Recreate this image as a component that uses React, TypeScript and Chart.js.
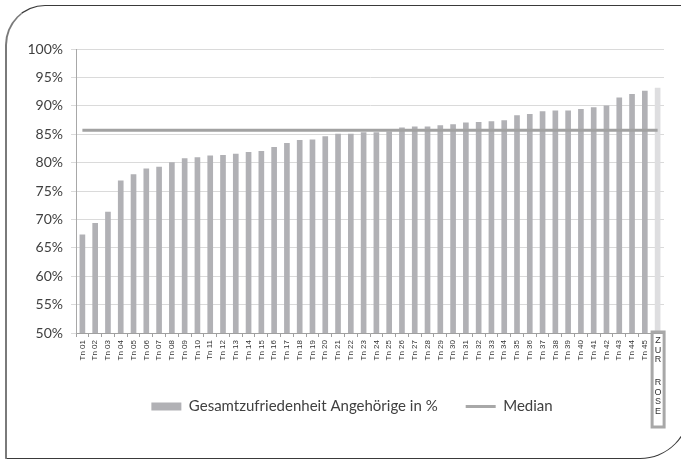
import React, { useEffect, useRef } from 'react';
import { Chart, registerables } from 'chart.js';

Chart.register(...registerables);

const categories: string[] = [
  'Tn 01', 'Tn 02', 'Tn 03', 'Tn 04', 'Tn 05', 'Tn 06', 'Tn 07', 'Tn 08', 'Tn 09', 'Tn 10',
  'Tn 11', 'Tn 12', 'Tn 13', 'Tn 14', 'Tn 15', 'Tn 16', 'Tn 17', 'Tn 18', 'Tn 19', 'Tn 20',
  'Tn 21', 'Tn 22', 'Tn 23', 'Tn 24', 'Tn 25', 'Tn 26', 'Tn 27', 'Tn 28', 'Tn 29', 'Tn 30',
  'Tn 31', 'Tn 32', 'Tn 33', 'Tn 34', 'Tn 35', 'Tn 36', 'Tn 37', 'Tn 38', 'Tn 39', 'Tn 40',
  'Tn 41', 'Tn 42', 'Tn 43', 'Tn 44', 'Tn 45', 'ZUR ROSE',
];

const satisfaction: number[] = [
  67.3, 69.3, 71.3, 76.8, 77.9, 78.9, 79.2, 80.0, 80.7, 80.9,
  81.2, 81.3, 81.5, 81.8, 82.0, 82.7, 83.4, 83.9, 84.0, 84.6,
  85.0, 85.0, 85.3, 85.3, 85.4, 86.1, 86.3, 86.3, 86.5, 86.7,
  87.0, 87.1, 87.2, 87.4, 88.3, 88.5, 89.0, 89.1, 89.1, 89.4,
  89.7, 90.0, 91.4, 92.0, 92.6, 93.1,
];

const medianValue = 85.7;

const yTicks: number[] = [50, 55, 60, 65, 70, 75, 80, 85, 90, 95, 100];

const seriesNames = ['Gesamtzufriedenheit Angehörige in %', 'Median'];

const BAR_COLOR = '#b1b1b5';
const HIGHLIGHT_COLOR = '#dedee0';
const MEDIAN_COLOR = '#a2a2a2';

const zurRosePlugin = {
  id: 'zurRose',
  afterDraw(chart: any) {
    const ctx = chart.ctx;
    const x = chart.scales.x;
    const last = categories.length - 1;
    const cx = x.getPixelForValue(last);
    const bottom = chart.chartArea.bottom;
    ctx.save();
    ctx.strokeStyle = '#a8a8a8';
    ctx.lineWidth = 3;
    ctx.strokeRect(cx - 5.5, bottom - 1, 12, 95);
    ctx.fillStyle = '#333333';
    ctx.font = '9px "Liberation Sans", Arial, sans-serif';
    ctx.textAlign = 'center';
    ctx.textBaseline = 'middle';
    const chars = categories[last].split('');
    const offsets = [8, 17.5, 27, 0, 50, 59.5, 69, 78.5];
    chars.forEach((c, i) => {
      if (c.trim()) ctx.fillText(c, cx + 0.5, bottom + offsets[i]);
    });
    ctx.restore();
  },
};

const legendShiftPlugin = {
  id: 'legendShift',
  afterLayout(chart: any) {
    const lg = chart.legend;
    if (lg) {
      lg.left += 20;
      lg.right += 20;
    }
  },
};

export default function App() {
  const canvasRef = useRef<HTMLCanvasElement | null>(null);

  useEffect(() => {
    if (!canvasRef.current) return;
    const chart = new Chart(canvasRef.current, {
      type: 'bar',
      data: {
        labels: categories,
        datasets: [
          {
            type: 'line',
            label: seriesNames[1],
            data: categories.map(() => medianValue),
            borderColor: MEDIAN_COLOR,
            backgroundColor: MEDIAN_COLOR,
            borderWidth: 3,
            pointRadius: 0,
            order: 0,
          } as any,
          {
            type: 'bar',
            label: seriesNames[0],
            data: satisfaction,
            backgroundColor: satisfaction.map((_, i) => (i === satisfaction.length - 1 ? HIGHLIGHT_COLOR : BAR_COLOR)),
            barThickness: 5,
            order: 1,
          },
        ],
      },
      options: {
        animation: false,
        responsive: false,
        maintainAspectRatio: false,
        layout: { padding: { top: 49, left: 0, right: 17, bottom: 35 } },
        plugins: {
          tooltip: { enabled: false },
          legend: {
            position: 'bottom',
            labels: {
              usePointStyle: true,
              pointStyleWidth: 30,
              boxHeight: 8,
              padding: 28,
              color: '#404040',
              font: { family: 'Lato, "Open Sans", sans-serif', size: 15 },
              generateLabels: () => [
                {
                  text: seriesNames[0],
                  fillStyle: BAR_COLOR,
                  strokeStyle: BAR_COLOR,
                  lineWidth: 0,
                  pointStyle: 'rect',
                  hidden: false,
                  datasetIndex: 1,
                  fontColor: '#404040',
                },
                {
                  text: seriesNames[1],
                  fillStyle: MEDIAN_COLOR,
                  strokeStyle: '#a8a8a8',
                  lineWidth: 3,
                  pointStyle: 'line',
                  hidden: false,
                  datasetIndex: 0,
                  fontColor: '#404040',
                },
              ],
            },
          },
        },
        scales: {
          x: {
            offset: true,
            grid: {
              display: true,
              drawOnChartArea: false,
              drawTicks: true,
              tickLength: 4,
              color: '#a0a0a0',
              offset: true,
            },
            border: { display: true, color: '#a0a0a0', width: 1 },
            ticks: {
              autoSkip: false,
              minRotation: 90,
              maxRotation: 90,
              padding: 3,
              color: '#333333',
              font: { family: '"Liberation Sans", Arial, sans-serif', size: 8 },
              callback: (_v: any, i: number) => (i === categories.length - 1 ? '' : categories[i]),
            },
            afterFit: (scale: any) => {
              scale.height = 38;
            },
          },
          y: {
            min: 50,
            max: 100,
            afterBuildTicks: (scale: any) => {
              scale.ticks = yTicks.map((v) => ({ value: v }));
            },
            grid: {
              color: '#dadada',
              lineWidth: 1,
              tickLength: 5,
              drawTicks: true,
            },
            border: { display: true, color: '#a8a8a8', width: 1 },
            ticks: {
              padding: 8,
              color: '#404040',
              font: { family: 'Lato, "Open Sans", sans-serif', size: 14 },
              callback: (v: any) => `${v}%`,
            },
            afterFit: (scale: any) => {
              scale.width = 76;
            },
          },
        },
      },
      plugins: [zurRosePlugin, legendShiftPlugin],
    } as any);
    return () => chart.destroy();
  }, []);

  return (
    <div style={{ position: 'fixed', left: 0, top: 0, width: 681, height: 459, background: '#ffffff', overflow: 'hidden' }}>
      <div
        style={{
          position: 'absolute',
          left: 5,
          top: 5,
          width: 685,
          height: 454,
          boxSizing: 'border-box',
          borderTop: '1.5px solid #3a3a3a',
          borderLeft: '2px solid #7a7a7a',
          borderRight: '1.5px solid #3a3a3a',
          borderBottom: '1.5px solid #3a3a3a',
          borderTopLeftRadius: 40,
          borderBottomRightRadius: 50,
        }}
      />
      <canvas ref={canvasRef} width={681} height={459} style={{ position: 'absolute', left: 0, top: 0, width: 681, height: 459 }} />
    </div>
  );
}
